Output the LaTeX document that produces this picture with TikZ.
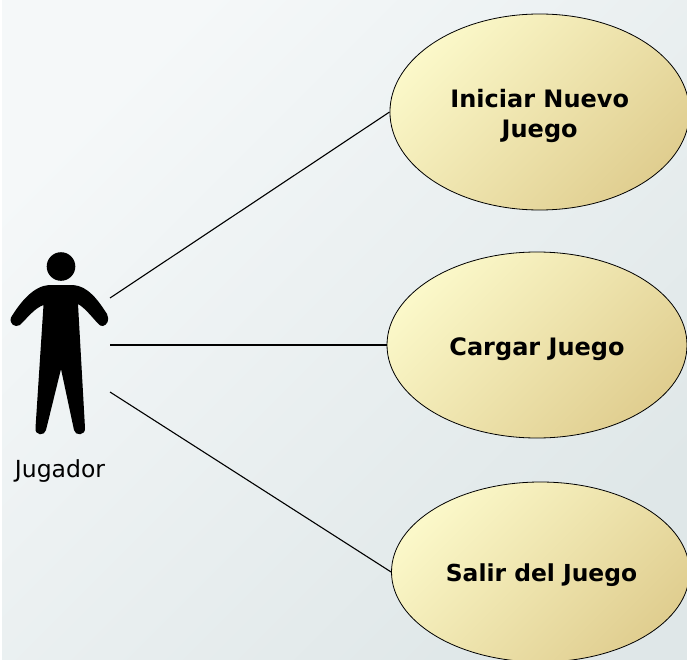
\documentclass[tikz,border=0pt]{standalone}
\usepackage{fontspec}
\setmainfont{DejaVu Sans}
\usetikzlibrary{shapes.geometric}
\definecolor{bgA}{HTML}{F5F8F9}
\definecolor{bgB}{HTML}{DFE7E8}
\definecolor{ucA}{HTML}{FBF8C9}
\definecolor{ucB}{HTML}{E0CE90}
\newcommand\shiftdown[2]{\raisebox{-#1}[\dimexpr\height+#1\relax][\dimexpr\depth+#1\relax]{#2}}
\tikzset{
  usecase/.style={ellipse,draw=black,line width=0.8pt,inner sep=0pt,align=center,
    left color=ucA,right color=ucB,shading angle=45,
    font=\fontsize{24}{30}\selectfont\bfseries},
  assoc/.style={draw=black,line width=1.1pt},
}
\begin{document}
\begin{tikzpicture}[x=1pt,y=-1pt]
\useasboundingbox (0,0) rectangle (687,660);
\clip (0,0) rectangle (687,660);
\fill[white] (0,0) rectangle (687,660);
\shade[left color=bgA,right color=bgB,shading angle=45] (2,0) rectangle (687,660);
\node[usecase,minimum width=299.5pt,minimum height=196pt] (u1) at (539.7,112) {\shiftdown{4.5pt}{\begin{tabular}{@{}c@{}}Iniciar Nuevo\\[0pt]Juego\end{tabular}}};
\node[usecase,minimum width=300pt,minimum height=186pt] (u2) at (537,345) {\shiftdown{4pt}{Cargar Juego}};
\node[usecase,minimum width=298pt,minimum height=180pt] (u3) at (540.5,572) {\shiftdown{3pt}{\hspace{2pt}\fontsize{23.4}{30}\selectfont Salir del Juego}};
% actor
\fill[black] (61,266.5) circle (14.3);
\fill[black]
  (49,285) -- (73,285)
  .. controls (88,286) and (98,300) .. (107,314)
  .. controls (110,320) and (107,325) .. (103,326)
  .. controls (101,326.5) and (99.5,325) .. (98,323.5)
  .. controls (91,316) and (85,308) .. (78,304)
  -- (85,428)
  .. controls (85.5,436) and (75,436) .. (74,430)
  -- (61,369)
  -- (46,430)
  .. controls (45,436) and (34.5,436) .. (35.5,428)
  -- (43.5,305)
  .. controls (35,308) and (28,317) .. (20,325)
  .. controls (15,328) and (9,324) .. (11,317.5)
  .. controls (21,301) and (34,286) .. (49,285) -- cycle;
\coordinate (a1) at (110,298);
\coordinate (a2) at (110,345);
\coordinate (a3) at (110,392);
\node[font=\fontsize{23.5}{28}\selectfont] (lbl) at (60,471) {Jugador};
\draw[assoc] (a1) -- (u1.west);
\draw[assoc] (a2) -- (u2.west);
\draw[assoc] (a3) -- (u3.west);
\end{tikzpicture}
\end{document}
